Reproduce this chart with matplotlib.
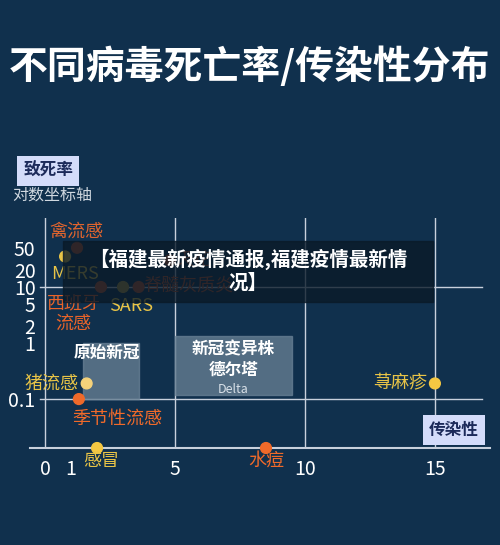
import matplotlib
matplotlib.use("Agg")
import matplotlib.pyplot as plt
from matplotlib.patches import Rectangle

plt.rcParams['font.family'] = ['Noto Sans CJK SC', 'DejaVu Sans']

names = ['禽流感', 'MERS', '天花', '西班牙\n流感', 'SARS', '脊髓灰质炎', '猪流感', '季节性流感', '荨麻疹', '感冒', '水痘']
spread = [1.23, 0.77, 4.8, 2.15, 3.0, 3.6, 1.6, 1.3, 15.0, 2.0, 8.5]
fatality = [50, 35, 30, 10, 10, 10, 0.19, 0.1, 0.19, 0.0134, 0.0134]
colors = ['#c4532a', '#e8c447', '#c4532a', '#c4532a', '#b89a3c', '#c4532a', '#f5d27a', '#f06a2a', '#f5c842', '#f5c842', '#f06a2a']
lcolors = ['#e0642e', '#e8c447', '#c4532a', '#e8642a', '#e8c447', '#c4532a', '#e8c447', '#f06a2a', '#e8c447', '#e8c447', '#f06a2a']
yticks = [0.1, 1, 2, 5, 10, 20, 50]
xticks = [0, 1, 5, 10, 15]

bg = '#10304d'
fig = plt.figure(figsize=(5, 5.45), dpi=100, facecolor=bg)
ax = fig.add_axes([30/500, 97/545, 460/500, 230/545])
ax.set_facecolor(bg)
ax.set_yscale('log')
ax.set_xlim(-0.58, 17.12)
ax.set_ylim(0.0134, 170)
for s in ax.spines.values():
    s.set_visible(False)
for xv in [0, 5, 10, 15]:
    ax.axvline(xv, color='#c8d0dc', lw=1, zorder=1)
for yv in [10, 0.1]:
    ax.plot([-0.2, 16.8], [yv, yv], color='#c8d0dc', lw=1, zorder=1)
ax.plot([-0.58, 17.12], [0.0134, 0.0134], color='#c8d0dc', lw=1.5, zorder=1, clip_on=False)
ax.set_xticks(xticks)
ax.set_xticklabels([str(x) for x in xticks])
ax.set_yticks(yticks)
ax.set_yticklabels(['0.1', '1', '2', '5', '10', '20', '50'])
ax.minorticks_off()
ax.tick_params(colors='white', labelsize=14, length=0)
ax.tick_params(axis='y', pad=-4)
ax.tick_params(axis='x', pad=8)

# boxes
ax.add_patch(Rectangle((1.46, 0.1), 2.14, 0.9, color='#6a8296', alpha=0.75, zorder=2))
ax.add_patch(Rectangle((5.0, 0.12), 4.5, 1.2, color='#6a8296', alpha=0.75, zorder=2))
ax.text(1.1, 0.55, '原始新冠', color='white', fontsize=12, fontweight='bold', zorder=5)
ax.text(7.25, 0.5, '新冠变异株\n德尔塔', color='white', fontsize=12, fontweight='bold', ha='center', va='center', zorder=5, linespacing=1.15)
ax.text(7.25, 0.15, 'Delta', color='#d8e0e8', fontsize=9, ha='center', va='center', zorder=5)

ax.scatter(spread, fatality, c=colors, s=60, zorder=4, clip_on=False)
offs = {
    '禽流感': (1.2, 95, 'center'), 'MERS': (0.23, 17, 'left'), '天花': (5.0, 30, 'left'),
    '西班牙\n流感': (1.1, 3.3, 'center'), 'SARS': (2.45, 4.6, 'left'), '脊髓灰质炎': (3.8, 10, 'left'),
    '猪流感': (1.3, 0.19, 'right'), '季节性流感': (1.05, 0.045, 'left'), '荨麻疹': (14.7, 0.19, 'right'),
    '感冒': (1.45, 0.0134, 'left'), '水痘': (8.5, 0.0134, 'center'),
}
for n, c in zip(names, lcolors):
    x, y, ha = offs[n]
    txt = ax.text(x, y, n, color=c, fontsize=13, ha=ha, va='center', zorder=5, linespacing=1.05)
    if n in ('感冒', '水痘'):
        txt.set_va('top')
        txt.set_y(0.0134 / 1.2)

# title
fig.text(0.5, 1 - 67/545, '不同病毒死亡率/传染性分布', color='white', fontsize=28, fontweight='heavy', ha='center', va='center')
# axis label boxes
fig.text(48/500, 1 - 171/545, '致死率', color='#1c2a5a', fontsize=12, fontweight='bold', ha='center', va='center',
         bbox=dict(boxstyle='square,pad=0.35', fc='#d4dcfa', ec='none'))
fig.text(12/500, 1 - 195/545, '对数坐标轴', color='#d0d8e0', fontsize=11.5, ha='left', va='center')
fig.text(454/500, 1 - 430/545, '传染性', color='#1c2a5a', fontsize=12, fontweight='bold', ha='center', va='center',
         bbox=dict(boxstyle='square,pad=0.35', fc='#d4dcfa', ec='none'))
# banner overlay
fig.patches.append(Rectangle((63/500, 1 - 302/545), 370/500, 61/545, transform=fig.transFigure,
                             color='#0a1a28', alpha=0.8, zorder=10))
fig.text(248/500, 1 - 271/545, '【福建最新疫情通报,福建疫情最新情\n况】', color='white', fontsize=14,
         fontweight='bold', ha='center', va='center', zorder=11, linespacing=1.2)
fig.savefig('out.png', dpi=100, facecolor=bg)
